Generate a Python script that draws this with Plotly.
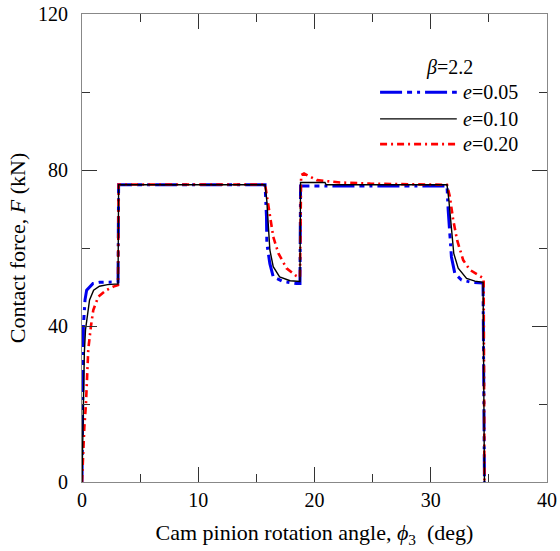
import plotly.graph_objects as go

# e = 0.05
x_e005 = [0, 0.03, 0.06, 0.12, 0.26, 0.4, 0.95, 1.5, 3.1, 3.15, 15.75, 15.87, 15.9, 16.16, 16.45,
          17.3, 18.45, 18.75, 18.8, 31.4, 31.5, 31.64, 31.78, 32.07, 32.64, 33.5, 34.5, 34.62]
f_e005 = [0, 20, 34, 40, 46.7, 49.2, 50.9, 51.2, 51.3, 76.2, 76.2, 68, 61.2, 56, 52.6,
          51.4, 50.9, 50.9, 75.9, 75.9, 69.7, 63.8, 57.7, 53.5, 51.8, 51.2, 51.0, 0]

# e = 0.10
x_e010 = [0, 0.1, 0.2, 0.3, 0.45, 0.65, 1.0, 1.5, 2.2, 3.1, 3.15, 15.75, 15.9, 16.02, 16.16,
          16.45, 17.0, 17.9, 18.75, 18.8, 20.9, 21.0, 31.4, 31.55, 31.64, 31.78, 31.98, 32.36,
          33.08, 33.8, 34.5, 34.62]
f_e010 = [0, 20, 33, 39, 43, 46.7, 49.2, 50.2, 50.6, 50.8, 76.2, 76.2, 72, 66.3, 59.5,
          55.2, 52.6, 51.6, 51.4, 76.8, 76.8, 76.2, 76.2, 72.5, 69.7, 63.8, 58.6, 54.8,
          52.2, 51.5, 51.2, 0]

# e = 0.20
x_e020 = [0, 0.1, 0.2, 0.34, 0.54, 0.77, 0.97, 1.4, 2.1, 2.7, 3.1, 3.15, 15.75, 15.87, 16.16,
          16.45, 16.9, 17.6, 18.45, 18.75, 18.85, 19.1, 20.2, 22.2, 24.8, 28.0, 31.4, 31.64,
          31.93, 32.27, 32.79, 33.36, 34.22, 34.55, 34.62]
f_e020 = [0, 8, 14, 20, 34, 40, 44.1, 47.5, 49.2, 50.1, 50.5, 76.3, 76.3, 74, 68,
          62.9, 58.6, 54.8, 52.8, 52.5, 78.7, 79.1, 77.4, 76.8, 76.5, 76.3, 76.2, 73.2,
          67.2, 62, 56.9, 54.4, 52.8, 52.2, 0]

legend_labels = ["<i>e</i>=0.05", "<i>e</i>=0.10", "<i>e</i>=0.20"]
legend_title = "<i>β</i>=2.2"

styles = [
    dict(color="#0000ee", width=3, dash="22px,5px,5px,5px,3px,5px"),
    dict(color="black", width=1.4, dash="solid"),
    dict(color="#ff0000", width=2.6, dash="7px,4px,2px,4px"),
]

font = "Liberation Serif, Times New Roman, serif"

fig = go.Figure()
for xs, ys, st in [(x_e005, f_e005, styles[0]), (x_e020, f_e020, styles[2]), (x_e010, f_e010, styles[1])]:
    fig.add_trace(go.Scatter(x=xs, y=ys, mode="lines", line=st, showlegend=False))

# hand-made legend
ys_leg = [0.833, 0.776, 0.722]
for yy, st, lab in zip(ys_leg, styles, legend_labels):
    fig.add_shape(type="line", xref="paper", yref="paper", x0=0.641, x1=0.806, y0=yy, y1=yy,
                  line=st)
    fig.add_annotation(xref="paper", yref="paper", x=0.815, y=yy, text=lab, showarrow=False,
                       xanchor="left", yanchor="middle", font=dict(size=20, family=font, color="black"))
fig.add_annotation(xref="paper", yref="paper", x=0.79, y=0.885, text=legend_title, showarrow=False,
                   xanchor="center", yanchor="middle", font=dict(size=20, family=font, color="black"))

axis_common = dict(
    showgrid=False, zeroline=False, showline=True, linecolor="#888", linewidth=1.2,
    mirror="ticks", ticks="inside", ticklen=15, tickcolor="#333", tickwidth=1.2,
    tickfont=dict(size=20, family=font, color="black"), automargin=False,
    ticklabeloverflow="allow",
)

fig.update_xaxes(range=[0, 40], tick0=0, dtick=10,
                 minor=dict(ticks="inside", ticklen=8, dtick=5, tickcolor="#333"),
                 title=dict(text="Cam pinion rotation angle, <i>ϕ</i><sub>3</sub>  (deg)",
                            font=dict(size=22, family=font, color="black"), standoff=14),
                 **axis_common)
fig.update_yaxes(range=[0, 120], tick0=0, dtick=40, ticklabelstandoff=9,
                 minor=dict(ticks="inside", ticklen=8, dtick=20, tickcolor="#333"),
                 title=dict(text="Contact force, <i>F</i> (kN)",
                            font=dict(size=22, family=font, color="black"), standoff=6),
                 **axis_common)

fig.update_layout(
    width=560, height=551,
    margin=dict(l=82, r=13, t=14, b=69),
    plot_bgcolor="white", paper_bgcolor="white",
)

# drop the default body margin so the figure fills the window exactly
fig.write_html("out.html", config={"displayModeBar": False},
               post_script="document.body.style.margin='0px';")
